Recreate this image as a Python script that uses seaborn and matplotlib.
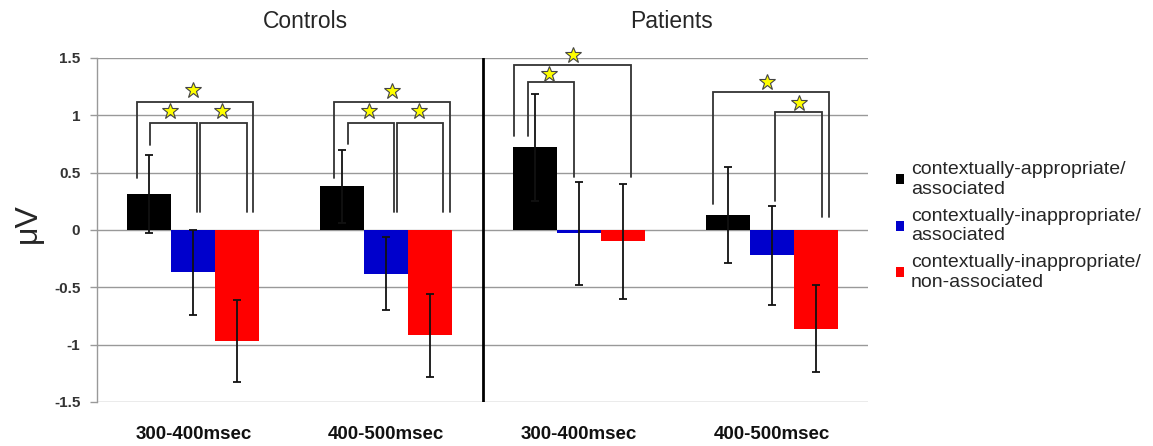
import matplotlib
matplotlib.use("Agg")
import matplotlib.pyplot as plt
from matplotlib.patches import Patch
import seaborn as sns
import pandas as pd
import numpy as np

# ---------------- data ----------------
groups = ["Controls", "Controls", "Patients", "Patients"]
windows = ["300-400msec", "400-500msec", "300-400msec", "400-500msec"]
conditions = ["contextually-appropriate/\nassociated",
              "contextually-inappropriate/\nassociated",
              "contextually-inappropriate/\nnon-associated"]
colors = ["#000000", "#0000cc", "#ff0000"]

appr_assoc = [0.31, 0.38, 0.72, 0.13]
inappr_assoc = [-0.37, -0.38, -0.03, -0.22]
inappr_nonassoc = [-0.97, -0.92, -0.10, -0.86]

err_appr_assoc = [0.34, 0.32, 0.47, 0.42]
err_inappr_assoc = [0.37, 0.32, 0.45, 0.43]
err_inappr_nonassoc = [0.36, 0.36, 0.50, 0.38]

yticks = [-1.5, -1, -0.5, 0, 0.5, 1, 1.5]
ytick_labels = ["-1.5", "-1", "-0.5", "0", "0.5", "1", "1.5"]

# significance brackets: group, left dx, right dx, left foot y, right foot y, top y
br_group = [0, 0, 0, 1, 1, 1, 2, 2, 3, 3]
br_x0 = [-0.29, -0.225, 0.035, -0.27, -0.20, 0.057, -0.337, -0.265, -0.306, 0.016]
br_x1 = [0.31, 0.02, 0.28, 0.33, 0.04, 0.295, 0.27, -0.026, 0.296, 0.259]
br_y0 = [0.45, 0.745, 0.16, 0.45, 0.75, 0.16, 0.82, 0.82, 0.23, 0.25]
br_y1 = [0.16, 0.16, 0.16, 0.16, 0.16, 0.16, 0.46, 0.46, 0.11, 0.11]
br_top = [1.12, 0.93, 0.93, 1.12, 0.93, 0.93, 1.44, 1.29, 1.20, 1.03]

# stars: group, dx, y
st_group = [0, 0, 0, 1, 1, 1, 2, 2, 3, 3]
st_dx = [0.0, -0.12, 0.15, 0.03, -0.09, 0.17, -0.03, -0.155, -0.026, 0.14]
st_y = [1.225, 1.04, 1.04, 1.21, 1.04, 1.04, 1.53, 1.36, 1.29, 1.11]

# ---------------- build frame ----------------
cats = [f"{g}|{w}" for g, w in zip(groups, windows)]
vals = [appr_assoc, inappr_assoc, inappr_nonassoc]
errs = [err_appr_assoc, err_inappr_assoc, err_inappr_nonassoc]
rows = []
for ci, cond in enumerate(conditions):
    for k, cat in enumerate(cats):
        rows.append({"cat": cat, "cond": cond, "val": vals[ci][k]})
df = pd.DataFrame(rows)

# ---------------- plot ----------------
sns.set_style("white")
plt.rcParams["font.family"] = ["Liberation Sans", "DejaVu Sans"]

fig = plt.figure(figsize=(11.53, 4.46), dpi=100)
ax = fig.add_axes([0.0841, 0.0987, 0.6689, 0.7713])

sns.barplot(data=df, x="cat", y="val", hue="cond", order=cats, hue_order=conditions,
            palette=colors, width=0.685, errorbar=None, saturation=1,
            linewidth=0, ax=ax, legend=False, zorder=3)

# error bars at the bar centres
bar_conts = list(ax.containers)
for ci, cont in enumerate(bar_conts):
    xs = [p.get_x() + p.get_width() / 2 for p in cont.patches]
    ax.errorbar(xs, vals[ci], yerr=errs[ci], fmt="none", ecolor="#111111",
                elinewidth=1.3, capsize=3, capthick=1.3, zorder=4)

ax.set_xlim(-0.5, 3.5)
ax.set_ylim(-1.5, 1.5)
ax.set_yticks(yticks)
ax.set_yticklabels(ytick_labels, fontsize=11, fontweight="bold", color="#333333")
ax.set_xticks(range(4))
ax.set_xticklabels(windows, fontsize=13.5, fontweight="bold", color="#111111")
ax.tick_params(axis="x", length=0, pad=17)
ax.tick_params(axis="y", length=5, width=1, color="#999999", pad=7, left=True)
ax.set_xlabel("")
ax.set_ylabel("\u03bcV", fontsize=23)
ax.yaxis.set_label_coords(-0.070, 0.52)
ax.grid(axis="y", color="#999999", linewidth=1, zorder=0)
ax.grid(axis="x", visible=False)
for s in ["top", "right", "bottom"]:
    ax.spines[s].set_visible(False)
ax.spines["left"].set_color("#999999")
ax.spines["left"].set_linewidth(1)

# divider between controls and patients
ax.axvline(1.5, color="black", linewidth=2, zorder=5)

# significance brackets
for g, x0, x1, y0, y1, yt in zip(br_group, br_x0, br_x1, br_y0, br_y1, br_top):
    ax.plot([g + x0, g + x0, g + x1, g + x1], [y0, yt, yt, y1],
            color="#333333", linewidth=1.3, zorder=5, clip_on=False,
            solid_joinstyle="miter")
ax.plot([g + d for g, d in zip(st_group, st_dx)], st_y, linestyle="none",
        marker="*", markersize=12, markerfacecolor="#ffff00",
        markeredgecolor="#444444", markeredgewidth=0.8, zorder=6, clip_on=False)

# group titles
fig.text(305 / 1153, 1 - 22 / 446, "Controls", ha="center", va="center", fontsize=16.5)
fig.text(672 / 1153, 1 - 22 / 446, "Patients", ha="center", va="center", fontsize=16.5)

# legend
handles = [Patch(facecolor=c, edgecolor="none") for c in colors]
fig.legend(handles, conditions, loc="center left",
           bbox_to_anchor=(896 / 1153, 1 - 226 / 446), frameon=False,
           fontsize=14, handlelength=0.42, handleheight=0.42,
           handletextpad=0.35, labelspacing=0.5, borderpad=0, borderaxespad=0)

fig.savefig("out.png", dpi=100)
